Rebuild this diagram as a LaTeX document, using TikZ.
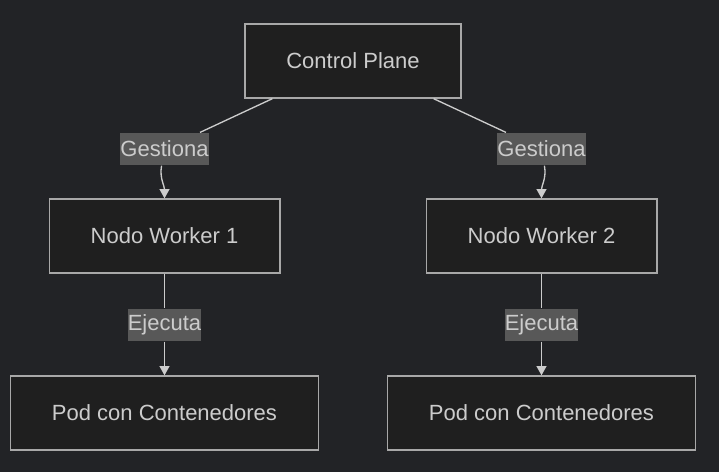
\documentclass[tikz,border=0pt]{standalone}
\usepackage{fontspec}
\setmainfont{Liberation Sans}
\usetikzlibrary{arrows.meta}
\definecolor{bgdark}{HTML}{222326}
\definecolor{boxfill}{HTML}{1F1F1F}
\definecolor{boxline}{HTML}{A8A8A8}
\definecolor{txtgray}{HTML}{CCCCCC}
\definecolor{lblfill}{HTML}{585858}

\begin{document}
\begin{tikzpicture}[x=0.75pt,y=-0.75pt]
    \def\lx{164.5}
    \def\rx{541.5}

    \fill[bgdark] (0,0) rectangle (719,472);
    \useasboundingbox (0,0) rectangle (719,472);

    \tikzstyle{box}=[draw=boxline,fill=boxfill,line width=1pt,text=txtgray,font=\fontsize{16.5}{19}\selectfont,minimum height=55.5pt,align=center,inner sep=0pt]
    \tikzstyle{lbl}=[fill=lblfill,text=txtgray,font=\fontsize{16.5}{19}\selectfont,minimum height=24.5pt,inner sep=0pt]

    \node[box,minimum width=162pt]  (cp) at (353,61) {Control Plane};

    \node[box,minimum width=173pt]  (w1) at (\lx,236) {Nodo Worker 1};
    \node[box,minimum width=173pt]  (w2) at (\rx,236) {Nodo Worker 2};

    \node[box,minimum width=231pt]  (p1) at (\lx,413) {Pod con Contenedores};
    \node[box,minimum width=231pt]  (p2) at (\rx,413) {Pod con Contenedores};

    \node[lbl,minimum width=66pt]  (g1) at (\lx,149) {Gestiona};
    \node[lbl,minimum width=66pt]  (g2) at (\rx,149) {Gestiona};
    \node[lbl,minimum width=55pt]  (e1) at (\lx,325) {Ejecuta};
    \node[lbl,minimum width=55pt]  (e2) at (\rx,325) {Ejecuta};

    \tikzstyle{link} = [draw=txtgray, line width=1pt]
    \tikzstyle{fwd} = [link, -{Triangle[width=7.5pt,length=7pt]}]

          \draw [link] (cp) -- (g1);
          \draw [link] (cp) -- (g2);
          \draw [link] (w1) -- (e1);
          \draw [link] (w2) -- (e2);
          \draw [fwd] (g1) to[out=-100,in=90] (w1);
          \draw [fwd] (g2) to[out=-80,in=90] (w2);
          \draw [fwd] (e1) -- (p1);
          \draw [fwd] (e2) -- (p2);

  \end{tikzpicture}
\end{document}
